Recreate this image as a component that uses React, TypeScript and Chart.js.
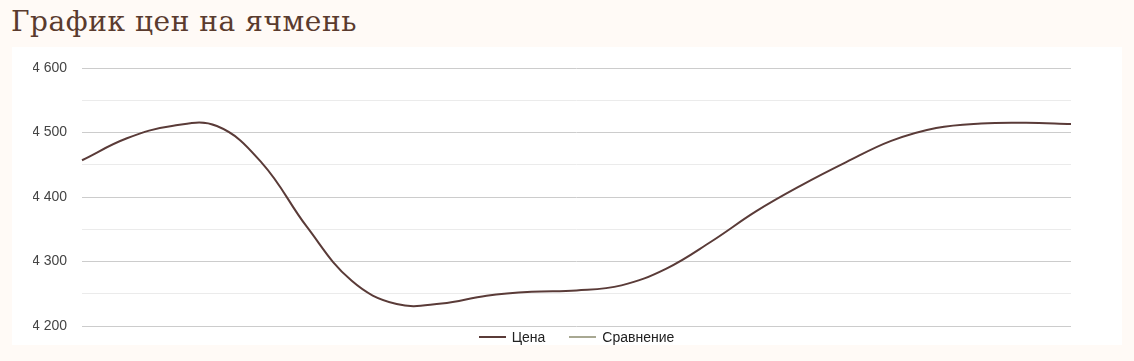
import React, { useEffect, useRef } from "react";
import { Chart, registerables } from "chart.js";

Chart.register(...registerables);

const TITLE = "График цен на ячмень";
const SERIES_NAMES = ["Цена", "Сравнение"];
const SERIES_COLORS = ["#5a3b38", "#a8a892"];
const CATEGORIES = [
  "1", "2", "3", "4", "5", "6", "7", "8", "9", "10", "11", "12",
  "13", "14", "15", "16", "17", "18", "19", "20", "21", "22", "23",
];
const PRICE = [
  4457, 4491, 4510, 4510, 4453, 4354, 4270, 4234, 4235, 4247, 4253, 4255,
  4263, 4289, 4331, 4378, 4418, 4454, 4487, 4507, 4514, 4515, 4513,
];
const COMPARE: (number | null)[] = [];
const Y_TICKS = [4200, 4300, 4400, 4500, 4600];

const fmt = (v: number) => String(v).replace(/\B(?=(\d{3})+(?!\d))/g, " ");
const FONT = "'Liberation Sans', Arial, sans-serif";

export default function App() {
  const ref = useRef<HTMLCanvasElement | null>(null);
  useEffect(() => {
    if (!ref.current) return;
    const chart = new Chart(ref.current, {
      type: "line",
      data: {
        labels: CATEGORIES,
        datasets: [
          {
            label: SERIES_NAMES[0],
            data: PRICE,
            borderColor: SERIES_COLORS[0],
            borderWidth: 2,
            pointRadius: 0,
            tension: 0.4,
            fill: false,
          },
          {
            label: SERIES_NAMES[1],
            data: COMPARE,
            borderColor: SERIES_COLORS[1],
            borderWidth: 2,
            pointRadius: 0,
            fill: false,
          },
        ],
      },
      options: {
        animation: false,
        responsive: false,
        maintainAspectRatio: false,
        layout: { padding: { left: 21, right: 51, top: 21, bottom: 19 } },
        plugins: {
          tooltip: { enabled: false },
          legend: { display: false },
        },
        scales: {
          x: { display: false, offset: false },
          y: {
            min: 4200,
            max: 4600,
            afterFit: (s: any) => {
              s.width = 49;
              s.paddingTop = 0;
              s.paddingBottom = 0;
            },
            border: { display: false },
            grid: {
              drawTicks: false,
              color: (c: any) => (c.tick && c.tick.value % 100 === 0 ? "#cccccc" : "#ebebeb"),
            },
            ticks: {
              stepSize: 50,
              padding: 15,
              color: "#444",
              font: { family: FONT, size: 14 },
              callback: (v: any) => (Y_TICKS.includes(Number(v)) ? fmt(Number(v)) : ""),
            },
          },
        },
      },
    });
    return () => chart.destroy();
  }, []);

  return (
    <div
      style={{
        position: "fixed",
        left: 0,
        top: 0,
        width: 1134,
        height: 361,
        background: "#fffaf6",
        overflow: "hidden",
      }}
    >
      <div
        style={{
          position: "absolute",
          left: 11,
          top: 2,
          fontFamily: "'DejaVu Serif', serif",
          fontSize: 28,
          letterSpacing: "0.55px",
          lineHeight: "40px",
          color: "#5a3b2e",
          whiteSpace: "nowrap",
        }}
      >
        {TITLE}
      </div>
      <div
        style={{
          position: "absolute",
          left: 12,
          top: 47,
          width: 1110,
          height: 298,
          background: "#ffffff",
        }}
      >
        <canvas ref={ref} width={1110} height={298} style={{ display: "block" }} />
        <div
          style={{
            position: "absolute",
            left: 70,
            width: 989,
            top: 281,
            height: 18,
            display: "flex",
            justifyContent: "center",
            alignItems: "center",
            fontFamily: FONT,
            fontSize: 14,
            color: "#222",
          }}
        >
          {SERIES_NAMES.map((n, i) => (
            <div
              key={n}
              style={{ display: "flex", alignItems: "center", marginLeft: i ? 24 : 0 }}
            >
              <span
                style={{
                  display: "inline-block",
                  width: 27,
                  height: 2,
                  background: SERIES_COLORS[i],
                  marginRight: 6,
                }}
              />
              <span>{n}</span>
            </div>
          ))}
        </div>
      </div>
    </div>
  );
}
